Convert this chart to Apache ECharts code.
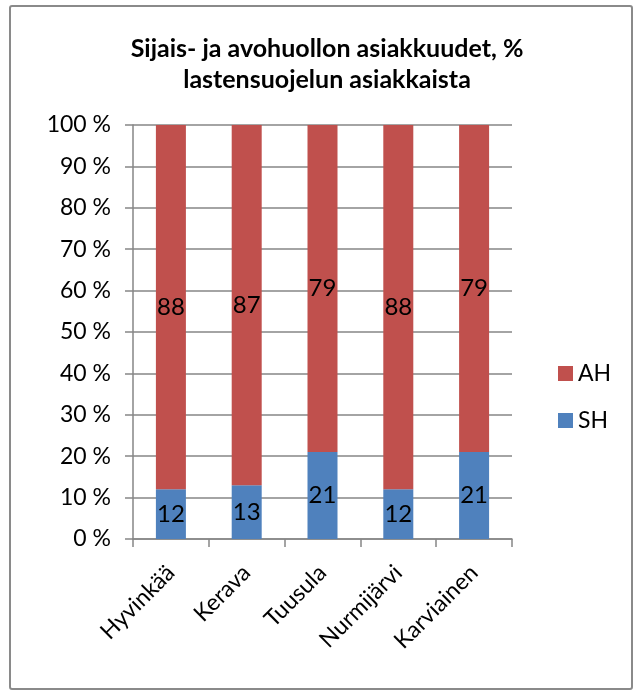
<!DOCTYPE html>
<html><head><meta charset="utf-8">
<script src="https://cdn.jsdelivr.net/npm/echarts@6/dist/echarts.min.js"></script>
<style>html,body{margin:0;padding:0;background:#fff}#c{width:643px;height:695px}</style>
</head><body><div id="c"></div>
<script>
const categories = ['Hyvinkää', 'Kerava', 'Tuusula', 'Nurmijärvi', 'Karviainen'];
const shValues = [12, 13, 21, 12, 21];
const ahValues = [88, 87, 79, 88, 79];
const yTicks = [0, 10, 20, 30, 40, 50, 60, 70, 80, 90, 100];

const FONT = 'Lato, "Open Sans", sans-serif';
const chart = echarts.init(document.getElementById('c'));
chart.setOption({
  animation: false,
  backgroundColor: '#fff',
  textStyle: { fontFamily: FONT },
  graphic: [{
    type: 'rect', shape: { x: 10, y: 6, width: 622, height: 683, r: 2 },
    style: { fill: 'none', stroke: '#8a8a8a', lineWidth: 2 }, silent: true
  }],
  title: {
    text: 'Sijais- ja avohuollon asiakkuudet, %\nlastensuojelun asiakkaista',
    left: 322, top: 28, textAlign: 'center',
    textStyle: { fontFamily: FONT, fontWeight: 'bold', fontSize: 25, lineHeight: 31, color: '#000' }
  },
  legend: {
    orient: 'vertical', left: 553, top: 357,
    itemWidth: 15, itemHeight: 15, itemGap: 24,
    icon: 'rect',
    data: ['AH', 'SH'],
    textStyle: { fontFamily: FONT, fontSize: 23, color: '#000' }
  },
  grid: { left: 133, right: 131, top: 125, bottom: 156, containLabel: false },
  xAxis: {
    type: 'category', data: categories,
    axisLine: { lineStyle: { color: '#868686', width: 1.5 } },
    axisTick: { show: true, length: 8, lineStyle: { color: '#868686', width: 1.5 } },
    axisLabel: { rotate: 45, fontFamily: FONT, fontSize: 23, color: '#000', margin: 30, interval: 0 }
  },
  yAxis: {
    type: 'value', min: 0, max: 100, interval: 10,
    axisLine: { show: true, lineStyle: { color: '#868686', width: 1.5 } },
    axisTick: { show: true, length: 8, lineStyle: { color: '#868686', width: 1.5 } },
    splitLine: { show: true, lineStyle: { color: '#868686', width: 1.5 } },
    axisLabel: {
      fontFamily: FONT, fontSize: 23, color: '#000', margin: 22,
      formatter: v => yTicks.includes(v) ? v + ' %' : ''
    }
  },
  series: [
    {
      name: 'SH', type: 'bar', stack: 's', data: shValues, barWidth: 30,
      itemStyle: { color: '#4F81BD' },
      label: { show: true, position: 'inside', fontFamily: FONT, fontSize: 24, color: '#000' }
    },
    {
      name: 'AH', type: 'bar', stack: 's', data: ahValues, barWidth: 30,
      itemStyle: { color: '#C0504D' },
      label: { show: true, position: 'inside', fontFamily: FONT, fontSize: 24, color: '#000' }
    }
  ]
});
</script></body></html>
